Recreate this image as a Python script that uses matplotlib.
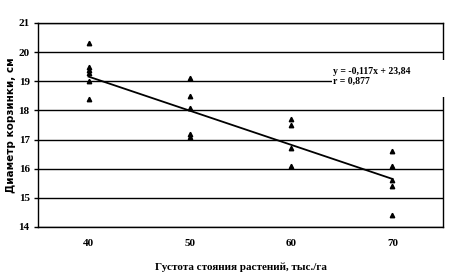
import matplotlib
matplotlib.use("Agg")
import matplotlib.pyplot as plt
from matplotlib.patches import Rectangle
import numpy as np

density = [40, 50, 60, 70]
vals_40 = [20.3, 19.5, 19.4, 19.3, 19.0, 18.4]
vals_50 = [19.1, 18.5, 18.1, 17.2, 17.1]
vals_60 = [17.7, 17.5, 16.7, 16.1]
vals_70 = [16.6, 16.1, 15.6, 15.4, 14.4]
slope = -0.117
intercept = 23.84
y_ticks = [14, 15, 16, 17, 18, 19, 20, 21]

plt.rcParams['font.family'] = ['Liberation Serif', 'DejaVu Serif']

fig = plt.figure(figsize=(4.52, 2.79), dpi=100)
ax = fig.add_axes([38/452, 1-227/279, (443-38)/452, (227-23)/279])

for x, vals in zip(density, [vals_40, vals_50, vals_60, vals_70]):
    ax.plot([x]*len(vals), vals, linestyle='none', marker='^', color='black',
            markersize=3.2, zorder=3)

xl = np.array([density[0], density[-1]])
ax.plot(xl, slope*xl + intercept, color='black', lw=1.3, zorder=2)

ax.set_xlim(35, 75)
ax.set_ylim(14, 21)
ax.set_yticks(y_ticks)
ax.set_yticklabels([str(t) for t in y_ticks], fontsize=8, fontweight='bold')
ax.set_xticks(density)
ax.set_xticklabels([str(d) for d in density], fontsize=8, fontweight='bold')
ax.tick_params(axis='x', length=0, pad=9)
ax.tick_params(axis='y', length=3, width=1, pad=3)
ax.grid(axis='y', color='black', lw=1)
ax.set_axisbelow(True)
for s in ['left', 'bottom', 'right', 'top']:
    ax.spines[s].set_linewidth(1)
    ax.spines[s].set_color('black')

ax.set_xlabel('Густота стояния растений, тыс./га', fontsize=8, fontweight='bold', labelpad=10)
ax.set_ylabel('Диаметр корзинки, см', family=['DejaVu Sans'], fontsize=7.5,
              fontweight='bold', labelpad=2)

ax.add_patch(Rectangle((0.726, 0.637), 0.285, 0.182, transform=ax.transAxes,
                       facecolor='white', edgecolor='none', zorder=4, clip_on=False))
ax.text(64.1, 19.18, 'y = -0,117x + 23,84\nr = 0,877', fontsize=7,
        fontweight='bold', va='center', ha='left', linespacing=1.15,
        zorder=5, clip_on=False)

fig.savefig('out.png', dpi=100)
